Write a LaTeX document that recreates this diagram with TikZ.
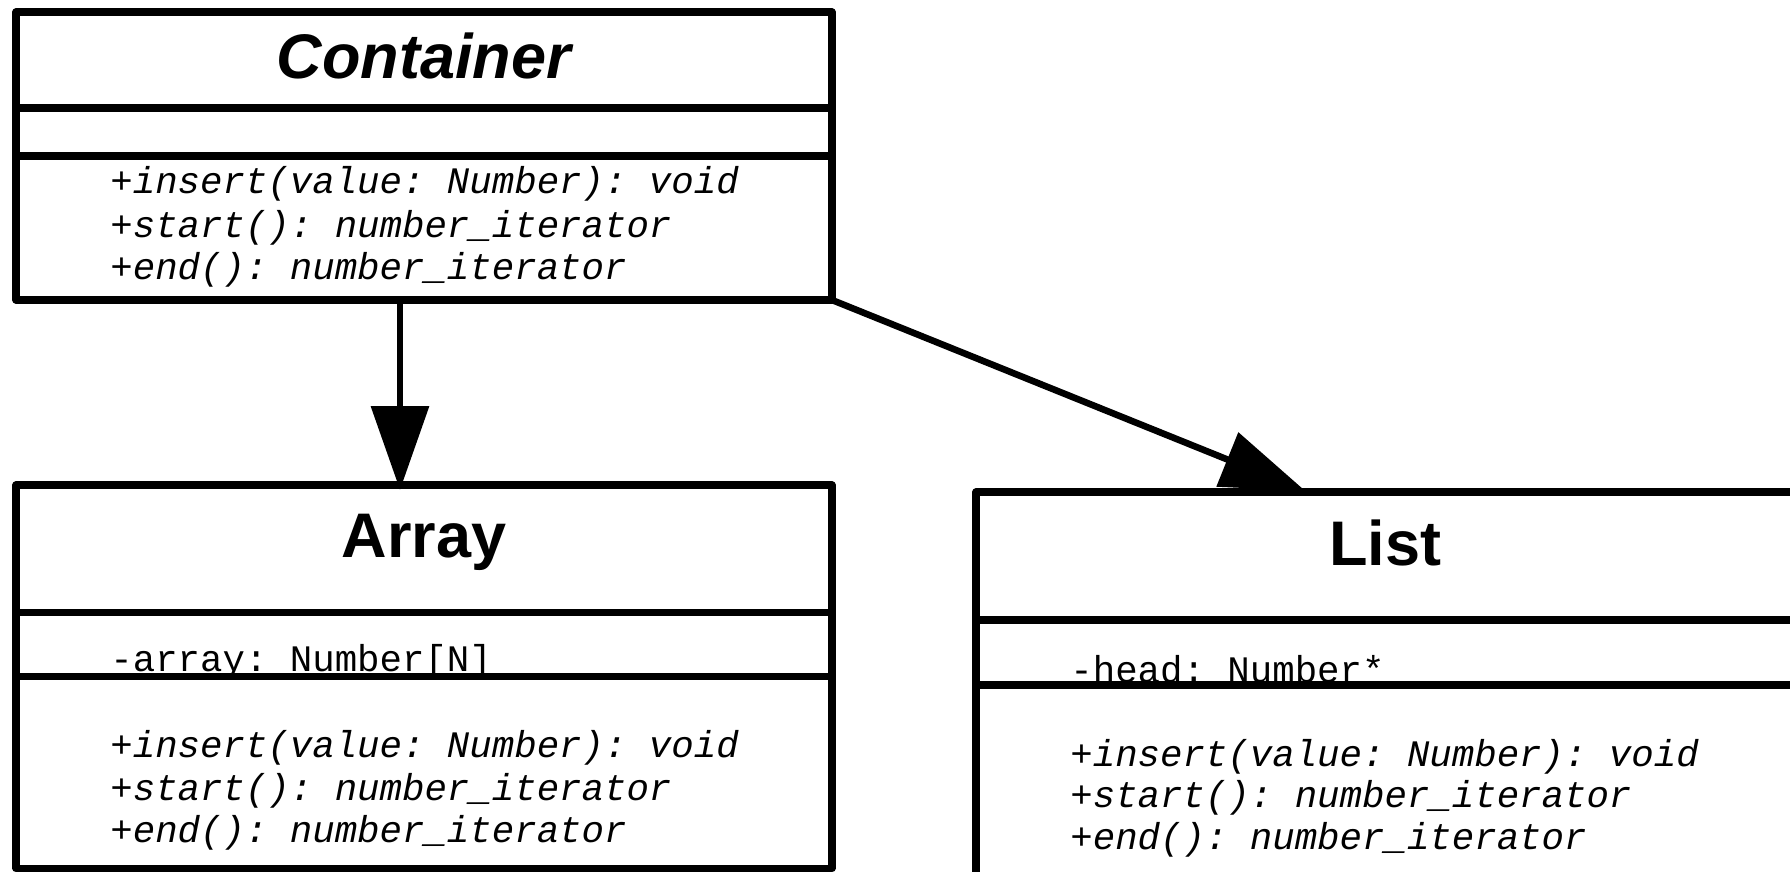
\documentclass[tikz,border=0pt]{standalone}
\usepackage{fontspec}
\setmainfont{Liberation Sans}
\setmonofont{Liberation Mono}
\usetikzlibrary{arrows.meta,fit}

\tikzset{
  classbox/.style={draw, line width=3.6pt, line join=round, inner sep=0pt, outer sep=0pt},
  divider/.style={line width=3.6pt},
  classname/.style={font=\fontsize{31.5}{36}\selectfont\bfseries, anchor=base, inner sep=0pt},
  abstractname/.style={classname, font=\fontsize{31.5}{36}\selectfont\bfseries\itshape},
  attr/.style={font=\fontsize{18.7}{22}\selectfont\ttfamily, anchor=base west, inner sep=0pt},
  op/.style={attr, font=\fontsize{18.7}{22}\selectfont\ttfamily\itshape},
  inherit/.style={line width=3.3pt, -{Triangle[length=42pt,width=28.5pt]}}
}

\begin{document}
\begin{tikzpicture}[x=0.5pt,y=-0.5pt]
  \path[fill=white, use as bounding box] (0,0) rectangle (1790,872);
  \clip (0,0) rectangle (1790,872);

  % Container
  \node[classbox, fit={(16,12) (832,300)}] (container) {};
  \node[abstractname] (containername) at (424,79) {Container};
  \node[op] (cinsert) at (110,194) {+insert(value: Number): void};
  \node[op] (cstart) at (110,237) {+start(): number\_iterator};
  \node[op] (cend) at (110,279.5) {+end(): number\_iterator};
  \draw[divider] (container.west |- 0,108) -- (container.east |- 0,108);
  \draw[divider] (container.west |- 0,156) -- (container.east |- 0,156);

  % Array
  \node[classbox, fit={(16,485) (832,868.5)}] (array) {};
  \node[classname] (arrayname) at (424,557.5) {Array};
  \node[attr] (aarray) at (110,671) {-array: Number[N]};
  \node[op] (ainsert) at (110,757) {+insert(value: Number): void};
  \node[op] (astart) at (110,800) {+start(): number\_iterator};
  \node[op] (aend) at (110,842) {+end(): number\_iterator};
  \draw[divider] (array.west |- 0,612.5) -- (array.east |- 0,612.5);
  \draw[divider] (array.west |- 0,676.7) -- (array.east |- 0,676.7);

  % List
  \node[classbox, fit={(976,492) (1796,880)}] (list) {};
  \node[classname] (listname) at (1385,565.5) {List};
  \node[attr] (lhead) at (1070,682) {-head: Number*};
  \node[op] (linsert) at (1070,766) {+insert(value: Number): void};
  \node[op] (lstart) at (1070,807) {+start(): number\_iterator};
  \node[op] (lend) at (1070,849) {+end(): number\_iterator};
  \draw[divider] (list.west |- 0,620) -- (list.east |- 0,620);
  \draw[divider] (list.west |- 0,685) -- (list.east |- 0,685);

  \draw[inherit, shorten >=-2.5pt] (container.south -| 400,0) -- (array.north -| 400,0);
  \draw[inherit, shorten >=1.5pt] (container.south east) -- (list.north -| 1308,0);
\end{tikzpicture}
\end{document}
